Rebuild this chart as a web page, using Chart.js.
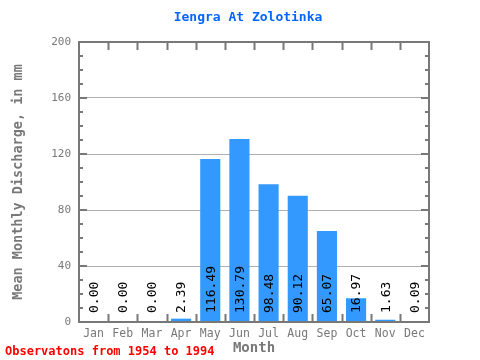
<!DOCTYPE html>
<html>
<head>
<meta charset="utf-8">
<script src="https://cdn.jsdelivr.net/npm/chart.js@4/dist/chart.umd.min.js"></script>
<style>
html,body{margin:0;padding:0;background:#fff;}
#wrap{width:480px;height:360px;}
</style>
</head>
<body>
<div id="wrap"><canvas id="c" width="480" height="360"></canvas></div>
<script>
const months = ['Jan','Feb','Mar','Apr','May','Jun','Jul','Aug','Sep','Oct','Nov','Dec'];
const discharge = [0.00, 0.00, 0.00, 2.39, 116.49, 130.79, 98.48, 90.12, 65.07, 16.97, 1.63, 0.09];
const yTicks = [0, 40, 80, 120, 160, 200];
const titleText = 'Iengra At Zolotinka';
const xTitle = 'Month';
const yTitle = 'Mean Monthly Discharge, in mm';
const footText = 'Observatons from 1954 to 1994';

const MONO = '"DejaVu Sans Mono", "Liberation Mono", monospace';
const AXIS = '#787878';

const decor = {
  id: 'decor',
  afterDatasetsDraw(chart) {
    const ctx = chart.ctx, a = chart.chartArea;
    const x = chart.scales.x, y = chart.scales.y;
    ctx.save();
    ctx.fillStyle = '#000';
    ctx.font = '13px ' + MONO;
    ctx.textAlign = 'left';
    ctx.textBaseline = 'middle';
    discharge.forEach((v, i) => {
      const px = x.getPixelForValue(i);
      ctx.save();
      ctx.translate(px + 1, a.bottom - 9);
      ctx.rotate(-Math.PI / 2);
      ctx.fillText(v.toFixed(2), 0, 0);
      ctx.restore();
    });
    ctx.restore();
  },
  afterDraw(chart) {
    const ctx = chart.ctx, a = chart.chartArea;
    const x = chart.scales.x, y = chart.scales.y;
    ctx.save();
    ctx.strokeStyle = AXIS;
    ctx.lineWidth = 2;
    ctx.strokeRect(a.left, a.top, a.right - a.left, a.bottom - a.top);
    // category boundary ticks top & bottom
    const n = months.length;
    const step = (a.right - a.left) / n;
    ctx.beginPath();
    for (let i = 1; i < n; i++) {
      const bx = Math.round(a.left + i * step) + 0.5;
      ctx.moveTo(bx, a.bottom); ctx.lineTo(bx, a.bottom - 8);
      ctx.moveTo(bx, a.top); ctx.lineTo(bx, a.top + 8);
    }
    ctx.stroke();
    // y ticks (minor every 10, major every 40)
    ctx.lineWidth = 2;
    ctx.beginPath();
    for (let v = 10; v < 200; v += 10) {
      const py = Math.round(y.getPixelForValue(v));
      const len = (v % 40 === 0) ? 8 : 4;
      ctx.moveTo(a.left, py); ctx.lineTo(a.left + len, py);
      ctx.moveTo(a.right, py); ctx.lineTo(a.right - len, py);
    }
    ctx.stroke();
    // texts
    ctx.fillStyle = '#0066ff';
    ctx.font = 'bold 13px ' + MONO;
    ctx.textAlign = 'center';
    ctx.textBaseline = 'middle';
    ctx.fillText(titleText, 248, 18);
    ctx.fillStyle = AXIS;
    ctx.font = 'bold 14px ' + MONO;
    ctx.fillText(xTitle, (a.left + a.right) / 2, 348);
    ctx.save();
    ctx.translate(18, (a.top + a.bottom) / 2);
    ctx.rotate(-Math.PI / 2);
    ctx.font = 'bold 13.5px ' + MONO;
    ctx.fillText(yTitle, 0, 0);
    ctx.restore();
    ctx.fillStyle = '#ff0000';
    ctx.font = 'bold 12px ' + MONO;
    ctx.textAlign = 'left';
    ctx.fillText(footText, 5, 352);
    ctx.restore();
  }
};

new Chart(document.getElementById('c'), {
  type: 'bar',
  data: {
    labels: months,
    datasets: [{
      data: discharge,
      backgroundColor: '#3399ff',
      borderWidth: 0,
      categoryPercentage: 1,
      barPercentage: 0.69
    }]
  },
  options: {
    responsive: false,
    animation: false,
    devicePixelRatio: 1,
    layout: { padding: { left: 0, right: 51, top: 42, bottom: 0 } },
    plugins: { legend: { display: false }, tooltip: { enabled: false }, title: { display: false } },
    scales: {
      x: {
        grid: { display: false, drawTicks: false },
        border: { display: false },
        ticks: { color: AXIS, font: { family: MONO, size: 11.5 }, padding: 5, maxRotation: 0 },
        afterFit(s) { s.height = 38; }
      },
      y: {
        min: 0, max: 200,
        z: 1,
        afterBuildTicks(s) { s.ticks = yTicks.map(v => ({ value: v })); },
        grid: {
          drawTicks: false,
          color: (c) => (c.tick && (c.tick.value === 0 || c.tick.value === 200)) ? 'rgba(0,0,0,0)' : '#b0b0b0',
          lineWidth: 1
        },
        border: { display: false },
        ticks: { color: AXIS, font: { family: MONO, size: 11 }, padding: 8 },
        afterFit(s) { s.width = 79; }
      }
    }
  },
  plugins: [decor]
});
</script>
</body>
</html>
